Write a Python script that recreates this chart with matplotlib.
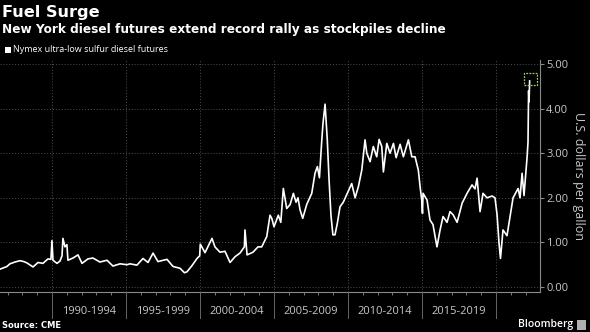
import matplotlib
matplotlib.use("Agg")
import matplotlib.pyplot as plt
from matplotlib.patches import Rectangle
from matplotlib.transforms import blended_transform_factory

# ---- data ----
years = [1986.49, 1986.96, 1987.16, 1987.5, 1987.84, 1988.1, 1988.31, 1988.72, 1989.06, 1989.39,
         1989.73, 1989.93, 1990.0, 1990.07, 1990.34, 1990.54, 1990.68, 1990.74, 1990.88, 1991.01,
         1991.08, 1991.42, 1991.76, 1992.03, 1992.43, 1992.77, 1993.24, 1993.72, 1994.12, 1994.6,
         1995.07, 1995.27, 1995.74, 1996.15, 1996.49, 1996.83, 1997.16, 1997.77, 1998.18, 1998.65,
         1998.95, 1999.12, 1999.46, 1999.8, 1999.98, 2000.02, 2000.34, 2000.81, 2001.01, 2001.35,
         2001.69, 2002.03, 2002.37, 2002.7, 2003.0, 2003.04, 2003.18, 2003.58, 2003.92, 2004.17,
         2004.51, 2004.73, 2004.85, 2005.0, 2005.29, 2005.46, 2005.63, 2005.86, 2006.09, 2006.31,
         2006.49, 2006.62, 2006.76, 2006.94, 2007.21, 2007.55, 2007.77, 2007.93, 2008.07, 2008.23,
         2008.31, 2008.45, 2008.6, 2008.72, 2008.85, 2008.98, 2009.12, 2009.28, 2009.46, 2009.68,
         2009.95, 2010.25, 2010.48, 2010.7, 2010.93, 2011.15, 2011.27, 2011.49, 2011.71, 2011.94,
         2012.1, 2012.28, 2012.39, 2012.62, 2012.84, 2013.07, 2013.25, 2013.52, 2013.74, 2014.08,
         2014.31, 2014.53, 2014.75, 2014.87, 2014.98, 2015.03, 2015.07, 2015.34, 2015.54, 2015.74,
         2016.01, 2016.22, 2016.42, 2016.69, 2016.89, 2017.1, 2017.37, 2017.71, 2018.04, 2018.38,
         2018.58, 2018.72, 2018.92, 2019.12, 2019.39, 2019.73, 2019.93, 2020.07, 2020.2, 2020.3,
         2020.47, 2020.74, 2020.95, 2021.15, 2021.49, 2021.62, 2021.76, 2021.89, 2022.1, 2022.16,
         2022.2, 2022.23, 2022.27]
prices = [0.40, 0.46, 0.52, 0.56, 0.59, 0.57, 0.54, 0.45, 0.55, 0.53,
          0.63, 0.62, 1.04, 0.60, 0.53, 0.58, 0.70, 1.09, 0.90, 0.95,
          0.60, 0.65, 0.72, 0.53, 0.63, 0.65, 0.56, 0.60, 0.47, 0.52,
          0.50, 0.52, 0.49, 0.64, 0.55, 0.76, 0.57, 0.62, 0.46, 0.42,
          0.32, 0.34, 0.48, 0.64, 0.70, 0.96, 0.77, 1.09, 0.90, 0.78,
          0.80, 0.55, 0.68, 0.76, 0.90, 1.28, 0.72, 0.78, 0.90, 0.90,
          1.13, 1.61, 1.54, 1.35, 1.61, 1.45, 2.21, 1.76, 1.85, 2.10,
          1.90, 2.00, 1.73, 1.54, 1.85, 2.10, 2.55, 2.70, 2.45, 3.30,
          3.67, 4.10, 3.30, 2.40, 1.60, 1.17, 1.17, 1.43, 1.80, 1.90,
          2.10, 2.32, 2.00, 2.25, 2.62, 3.30, 3.00, 2.81, 3.15, 2.92,
          3.31, 3.15, 2.58, 3.22, 3.00, 3.22, 2.90, 3.20, 2.92, 3.30,
          2.92, 2.92, 2.62, 2.25, 1.95, 1.65, 2.10, 1.95, 1.50, 1.40,
          0.90, 1.28, 1.58, 1.45, 1.69, 1.62, 1.45, 1.88, 2.10, 2.29,
          2.20, 2.44, 1.69, 2.10, 2.00, 2.04, 2.00, 1.62, 0.99, 0.64,
          1.28, 1.15, 1.58, 2.00, 2.21, 2.00, 2.55, 2.05, 2.92, 3.25,
          4.40, 4.15, 4.62]
period_labels = ["1990-1994", "1995-1999", "2000-2004", "2005-2009", "2010-2014", "2015-2019"]
period_starts = [1990, 1995, 2000, 2005, 2010, 2015, 2020]
y_ticks = [0, 1, 2, 3, 4, 5]

# ---- figure ----
W, H = 590, 332
fig = plt.figure(figsize=(W / 100, H / 100), dpi=100, facecolor="black")
ax = fig.add_axes([0, 1 - 292 / H, 540 / W, (292 - 60) / H], facecolor="black")

grid_c = "#505050"
text_c = "#c8c8c8"
axis_c = "#8a8a8a"

ax.set_xlim(1986.49, 2022.97)
ax.set_ylim(-0.112, 5.09)

for v in y_ticks:
    ax.axhline(v, color=grid_c, lw=0.7, ls=(0, (1, 2)), zorder=1)
for yr in period_starts:
    ax.axvline(yr, color=grid_c, lw=0.7, ls=(0, (1, 2)), zorder=1)

ax.plot(years, prices, color="white", lw=1.2, zorder=3)

# highlight box on last value
bw, bh = 0.88, 0.27
ax.add_patch(Rectangle((years[-1] - bw / 2 + 0.05, prices[-1] - bh / 2 + 0.04), bw, bh,
                       fill=False, edgecolor="#9ccc65", lw=0.9, ls=(0, (1.5, 1)), zorder=4))

# spines
for s in ["top", "left"]:
    ax.spines[s].set_visible(False)
ax.spines["right"].set_color(axis_c)
ax.spines["bottom"].set_color(axis_c)
ax.spines["right"].set_linewidth(0.8)
ax.spines["bottom"].set_linewidth(0.8)

ax.yaxis.tick_right()
ax.set_yticks(y_ticks)
ax.set_yticklabels([f"{v:.2f}" for v in y_ticks], fontsize=8, color=text_c, family="Open Sans")
ax.tick_params(axis="y", colors=axis_c, length=3, width=0.8, pad=1.5, labelcolor=text_c)
ax.yaxis.set_label_position("right")
ax.set_ylabel("U.S. dollars per gallon", rotation=-90, color=text_c, fontsize=9,
              family="Open Sans", labelpad=12)

ax.set_xticks(list(range(1987, 2023)))
ax.set_xticklabels([])
ax.tick_params(axis="x", colors=axis_c, length=2, width=0.6, direction="out")

# period separators below axis and labels
tr = blended_transform_factory(ax.transData, fig.transFigure)
for yr in period_starts:
    fig.add_artist(plt.Line2D([yr, yr], [1 - 292 / H, 1 - 318 / H], transform=tr,
                              color="#666666", lw=0.7))
for lab, yr in zip(period_labels, period_starts[:-1]):
    fig.text(yr + 2.5, 1 - 312 / H, lab, transform=tr, ha="center", va="center",
             fontsize=8, color=text_c, family="Open Sans")

# titles
fig.text(2 / W, 1 - 12 / H, "Fuel Surge", fontsize=11.6, fontweight="bold", color="white",
         va="center", ha="left", family="DejaVu Sans")
fig.text(2 / W, 1 - 29 / H, "New York diesel futures extend record rally as stockpiles decline",
         fontsize=8.7, fontweight="bold", color="white", va="center", ha="left",
         family="DejaVu Sans")
fig.patches.append(Rectangle((5 / W, 1 - 53 / H), 6 / W, 6 / H, transform=fig.transFigure,
                             facecolor="white", edgecolor="none"))
fig.text(13 / W, 1 - 50 / H, "Nymex ultra-low sulfur diesel futures", fontsize=6.5,
         color="white", va="center", ha="left", family="Open Sans")

# footer
fig.text(2 / W, 1 - 326 / H, "Source: CME", fontsize=6, fontweight="bold", color="white",
         va="center", ha="left", family="DejaVu Sans")
fig.text(573 / W, 1 - 325 / H, "Bloomberg", fontsize=7.5, fontweight="semibold", color="white",
         va="center", ha="right", family="Open Sans")
fig.patches.append(Rectangle((577 / W, 1 - 330 / H), 9 / W, 10 / H, transform=fig.transFigure,
                             facecolor="#b0b0b0", edgecolor="none"))

fig.savefig("out.png", dpi=100, facecolor="black")
